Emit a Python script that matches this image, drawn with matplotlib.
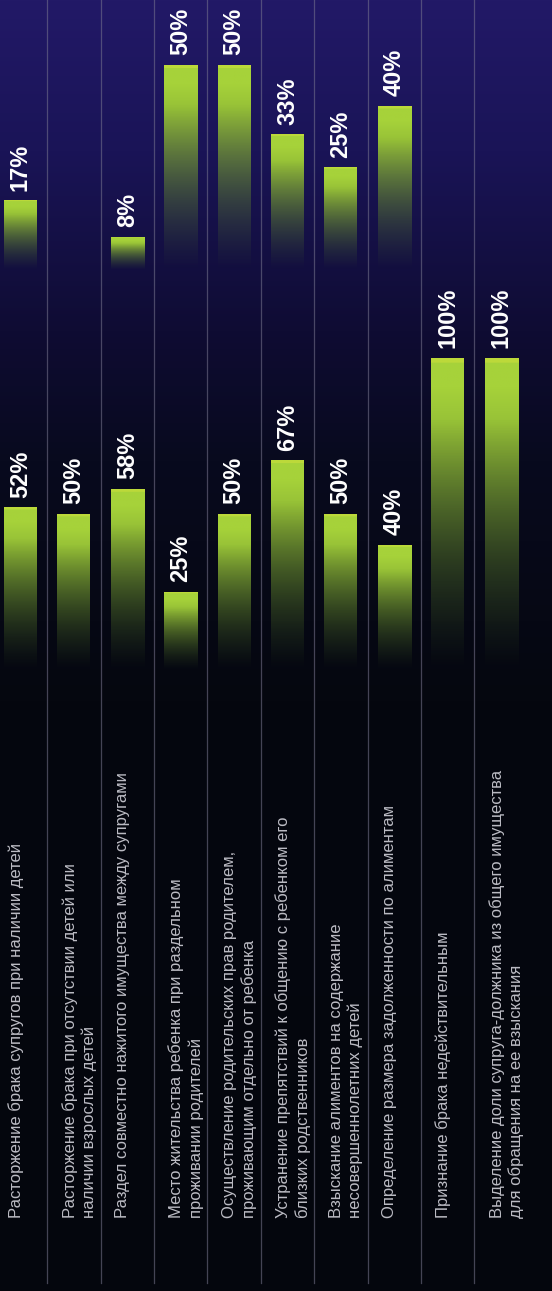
import numpy as np
import matplotlib
matplotlib.use('Agg')
import matplotlib.pyplot as plt
from matplotlib.colors import to_rgb

########### data ###########
categories = [
    'Расторжение брака супругов при наличии детей',
    'Расторжение брака при отсутствии детей или\nналичии взрослых детей',
    'Раздел совместно нажитого имущества между супругами',
    'Место жительства ребенка при раздельном\nпроживании родителей',
    'Осуществление родительских прав родителем,\nпроживающим отдельно от ребенка',
    'Устранение препятствий к общению с ребенком его\nблизких родственников',
    'Взыскание алиментов на содержание\nнесовершеннолетних детей',
    'Определение размера задолженности по алиментам',
    'Признание брака недействительным',
    'Выделение доли супруга-должника из общего имущества\nдля обращения на ее взыскания',
]
values_lower = [52, 50, 58, 25, 50, 67, 50, 40, 100, 100]
values_upper = [17, np.nan, 8, 50, 50, 33, 25, 40, np.nan, np.nan]

########### layout ###########
W, H = 552, 1291
DPI = 100
col_px = 53.4          # column pitch in pixels
x0_px = 20.5           # centre of first bar
xlim = (-x0_px / col_px, (W - x0_px) / col_px)
bar_w = 33 / col_px

plt.rcParams['font.family'] = ['Liberation Sans', 'DejaVu Sans']

fig = plt.figure(figsize=(W / DPI, H / DPI), dpi=DPI)

# background axes, pixel units in y (top = 0)
bg = fig.add_axes([0, 0, 1, 1])
bg.set_xlim(*xlim)
bg.set_ylim(H, 0)
bg.axis('off')

stops_y = [0, 150, 330, 460, 700, H]
stops_c = ['#221967', '#1a1457', '#0f0c33', '#080a1e', '#05070f', '#04060d']
yy = np.arange(H)
grad = np.zeros((H, 1, 3))
for k in range(3):
    grad[:, 0, k] = np.interp(yy, stops_y, [to_rgb(c)[k] for c in stops_c])
bg.imshow(grad, extent=(xlim[0], xlim[1], H, 0), aspect='auto', zorder=0)

# column separators
for i in range(len(categories) - 1):
    bg.plot([i + 0.5, i + 0.5], [0, 1283], color='#7a7890', lw=0.9, alpha=0.55, zorder=1)

# category labels
for i, lab in enumerate(categories):
    bg.text(i - bar_w / 2 + 0.08, 1218, lab, rotation=90, ha='left', va='bottom',
            multialignment='left', fontsize=12, color='#bcbcc4', linespacing=1.3, zorder=3)


def bar_image(n=200):
    t = np.linspace(1, 0, n)  # 1 at top, 0 at bottom
    top = np.array(to_rgb('#a6d23a'))
    mid = np.array(to_rgb('#4f7229'))
    img = np.zeros((n, 1, 4))
    for k in range(3):
        img[:, 0, k] = mid[k] + (top[k] - mid[k]) * np.clip(t * 1.1, 0, 1) ** 1.4
    img[:, 0, 3] = np.clip(t * 1.25, 0, 1) ** 1.1
    img[:3, 0, :3] = to_rgb('#bcd93a')
    return img


def draw_panel(ax, vals, ymax):
    ax.set_xlim(*xlim)
    ax.set_ylim(0, ymax)
    ax.axis('off')
    ax.patch.set_alpha(0)
    img = bar_image()
    for i, v in enumerate(vals):
        if np.isnan(v):
            continue
        ax.imshow(img, extent=(i - bar_w / 2, i + bar_w / 2, 0, v), aspect='auto', zorder=2)
        ax.annotate('%d%%' % v, (i, v), xytext=(0, 7), textcoords='offset points',
                    rotation=90, ha='center', va='bottom', fontsize=17,
                    fontweight='bold', color='white', annotation_clip=False)
    ax.set_xlim(*xlim)
    ax.set_ylim(0, ymax)


# upper panel: baseline at 270 px, 4.1 px per %
up_base, up_k = 270, 4.1
ax_up = fig.add_axes([0, (H - up_base) / H, 1, up_base / H])
draw_panel(ax_up, values_upper, up_base / up_k)

# lower panel: baseline at 670 px, 3.12 px per %
lo_base, lo_top, lo_k = 670, 300, 3.12
ax_lo = fig.add_axes([0, (H - lo_base) / H, 1, (lo_base - lo_top) / H])
draw_panel(ax_lo, values_lower, (lo_base - lo_top) / lo_k)

fig.savefig('out.png', dpi=DPI)
